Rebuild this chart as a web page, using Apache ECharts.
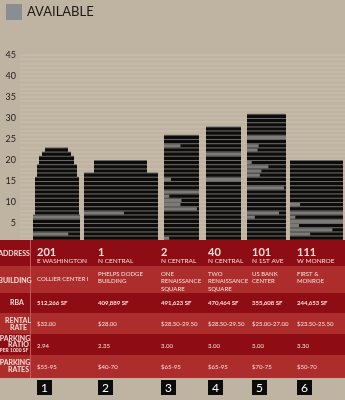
<!DOCTYPE html>
<html><head><meta charset="utf-8">
<script src="https://cdn.jsdelivr.net/npm/echarts@6/dist/echarts.min.js"></script>
<style>html,body{margin:0;padding:0;background:#bfb3a1;}#c{width:345px;height:400px;}</style>
</head><body><div id="c"></div>
<script>
// ---------- data ----------
const yTickValues = [0, 5, 10, 15, 20, 25, 30, 35, 40, 45];
const addressNumbers = ['201', '1', '2', '40', '101', '111'];
const addressStreets = ['E WASHINGTON', 'N CENTRAL', 'N CENTRAL', 'N CENTRAL', 'N 1ST AVE', 'W MONROE'];
const buildingNames = [['COLLIER CENTER I'], ['PHELPS DODGE', 'BUILDING'], ['ONE', 'RENAISSANCE', 'SQUARE'], ['TWO', 'RENAISSANCE', 'SQUARE'], ['US BANK', 'CENTER'], ['FIRST &', 'MONROE']];
const rbaValues = ['512,266 SF', '409,889 SF', '491,623 SF', '470,464 SF', '355,608 SF', '244,653 SF'];
const rentalRates = ['$32.00', '$28.00', '$28.50-29.50', '$28.50-29.50', '$25.00-27.00', '$23.50-25.50'];
const parkingRatios = ['2.94', '2.35', '3.00', '3.00', '3.00', '3.30'];
const parkingRates = ['$55-95', '$40-70', '$65-95', '$65-95', '$70-75', '$50-70'];
const buildingNumbers = ['1', '2', '3', '4', '5', '6'];

// floor footprints per building: [fromFloor, toFloor, leftX, rightX] (x-axis units)
const footprint1 = [[1, 7, 33, 80], [8, 16, 35, 79], [17, 19, 37, 77], [20, 21, 39, 74], [22, 22, 42, 71], [23, 23, 45, 68]];
const footprint2 = [[1, 17, 84, 158], [18, 20, 94, 147]];
const footprint3 = [[1, 26, 164, 199]];
const footprint4 = [[1, 28, 206, 241]];
const footprint5 = [[1, 31, 247, 286]];
const footprint6 = [[1, 20, 290, 343]];

// available space per floor: [floor, share of floor available]
const available1 = [[7, 1.0], [3, 0.75]];
const available2 = [[8, 0.54]];
const available3 = [[24, 0.47], [16, 0.2], [13, 1.0], [12, 0.15], [11, 0.5], [10, 0.47], [9, 0.94], [2, 0.15]];
const available4 = [[22, 1.0], [16, 1.0]];
const available5 = [[26, 1.0], [24, 0.3], [23, 0.27], [20, 0.12], [19, 0.55], [18, 0.37], [17, 0.33], [14, 0.95], [8, 0.82], [7, 0.2]];
const available6 = [[10, 0.19], [8, 1.0], [7, 0.1], [6, 1.0], [5, 0.17], [4, 0.8], [3, 0.38], [1, 0.08]];

// ---------- build ----------
const footprints = [footprint1, footprint2, footprint3, footprint4, footprint5, footprint6];
const availables = [available1, available2, available3, available4, available5, available6];
const floorData = [];
footprints.forEach((fp, bi) => {
  const av = {};
  availables[bi].forEach(([f, s]) => { av[f] = s; });
  fp.forEach(([f0, f1, l, r]) => {
    for (let f = f0; f <= f1; f++) floorData.push([l, r, f, av[f] || 0, bi]);
  });
});

const FONT = 'Lato, "Open Sans", "DejaVu Sans", sans-serif';
const DARK = '#8e0c14', LIGHT = '#ad2d2c', TXT = '#f4dfd8';
const colX = [37, 98, 161, 208, 252, 297];
const rows = [[240, 266, DARK], [266, 293, LIGHT], [293, 313, DARK], [313, 334, LIGHT], [334, 355, DARK], [355, 378, LIGHT]];
const g = [];
rows.forEach(([a, b, c]) => g.push({ type: 'rect', shape: { x: 0, y: a, width: 345, height: b - a }, style: { fill: c }, z: 10 }));
g.push({ type: 'rect', shape: { x: 30, y: 240, width: 1, height: 138 }, style: { fill: '#c4585a' }, z: 11 });
function t(text, x, y, size, bold, align) {
  g.push({ type: 'text', x: x, y: y, z: 12, style: { text: text, fill: TXT, font: (bold ? 'bold ' : '') + size + 'px ' + FONT, textAlign: align || 'left', textVerticalAlign: 'middle' } });
}
// row labels
t('ADDRESS', 14, 254, 7, true, 'center');
t('BUILDING', 15, 281, 7, true, 'center');
t('RBA', 17, 303, 7, true, 'center');
t('RENTAL', 18, 320.5, 7, true, 'center');
t('RATE', 18.5, 327.5, 7, true, 'center');
t('PARKING', 15, 339, 7, true, 'center');
t('RATIO', 18.5, 345, 7, true, 'center');
t('PER 1000 SF', 14, 350.5, 5, true, 'center');
t('PARKING', 15, 362.5, 7, true, 'center');
t('RATES', 18.5, 370, 7, true, 'center');
colX.forEach((x, i) => {
  t(addressNumbers[i], x, 252, 11, true);
  t(addressStreets[i], x, 260.5, 6.5, false);
  const names = buildingNames[i];
  if (names.length === 1) t(names[0], x, 279.5, 6, false);
  else names.forEach((n, k) => t(n, x, 274 + k * 7.3, 6, false));
  t(rbaValues[i], x, 303, 6, true);
  t(rentalRates[i], x, 324, 6, false);
  t(parkingRatios[i], x, 346, 6, false);
  t(parkingRates[i], x, 367, 6, false);
  g.push({ type: 'rect', shape: { x: x, y: 380, width: 15, height: 15 }, style: { fill: '#0b0b0b' }, z: 12 });
  g.push({ type: 'text', x: x + 7.5, y: 388, z: 13, style: { text: buildingNumbers[i], fill: '#ffffff', font: '12px ' + FONT, textAlign: 'center', textVerticalAlign: 'middle' } });
});

const chart = echarts.init(document.getElementById('c'), null, { renderer: 'canvas' });
chart.setOption({
  animation: false,
  backgroundColor: '#bfb3a1',
  legend: {
    left: 6, top: 4, padding: 0, itemWidth: 16, itemHeight: 16, itemGap: 5,
    textStyle: { fontFamily: FONT, fontSize: 13, color: '#1b1a18' },
    data: [{ name: 'AVAILABLE', icon: 'rect', itemStyle: { color: '#898e95' } }]
  },
  grid: { left: 20, right: 0, top: 55, bottom: 156 },
  xAxis: { type: 'value', min: 20, max: 345, show: false },
  yAxis: {
    type: 'value', min: 0, max: 45, interval: 5,
    axisLine: { show: false }, axisTick: { show: false },
    axisLabel: { margin: 4, fontSize: 9, fontFamily: FONT, color: '#1e1c1a', formatter: v => (yTickValues.indexOf(v) > 0 ? String(v) : '') },
    splitLine: { show: true, lineStyle: { color: '#c7bcaa', width: 1.5 } },
    minorTick: { show: false, splitNumber: 5 },
    minorSplitLine: { show: true, lineStyle: { color: '#c7bcaa', width: 1.5 } }
  },
  series: [{
    name: 'AVAILABLE',
    type: 'custom',
    data: floorData,
    itemStyle: { color: '#898e95' },
    renderItem: function (params, api) {
      const l = api.value(0), r = api.value(1), f = api.value(2), a = api.value(3);
      const p0 = api.coord([l, f]);
      const p1 = api.coord([r, f - 1]);
      const w = p1[0] - p0[0], h = p1[1] - p0[1];
      const ch = [
        { type: 'rect', shape: { x: p0[0], y: p0[1], width: w, height: h }, style: { fill: '#6a6661' } },
        { type: 'rect', shape: { x: p0[0], y: p0[1] + 1, width: w, height: h - 1 }, style: { fill: '#0c0c0c' } }
      ];
      if (a > 0) ch.push({ type: 'rect', shape: { x: p0[0], y: p0[1] + 1, width: w * a, height: h - 1 }, style: { fill: '#7c7b79' } });
      return { type: 'group', children: ch };
    }
  }],
  graphic: g
});
</script></body></html>
